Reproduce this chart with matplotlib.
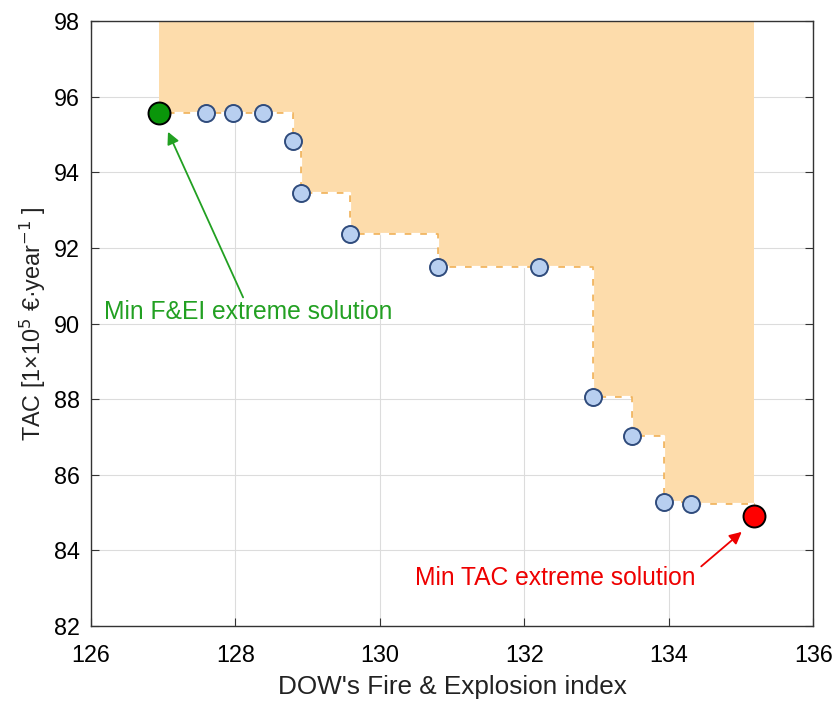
import matplotlib
matplotlib.use("Agg")
import matplotlib.pyplot as plt

plt.rcParams["font.family"] = ["Liberation Sans", "DejaVu Sans"]

# pareto front
fei = [126.95, 127.60, 127.97, 128.39, 128.80, 128.91, 129.59, 130.81,
       132.20, 132.95, 133.49, 133.94, 134.31, 135.18]
tac = [95.56, 95.57, 95.57, 95.57, 94.83, 93.46, 92.38, 91.50,
       91.50, 88.06, 87.02, 85.28, 85.24, 84.90]

# staircase boundary of the dominated region (last level kept to the red point)
step_y = tac[:-1] + [tac[-2]]

fig = plt.figure(figsize=(8.38, 7.03), dpi=100)
ax = fig.add_axes([0.1082, 0.1095, 0.8623, 0.8606])

ax.fill_between(fei, step_y, 98, step="post", color="#fddcab", lw=0, zorder=1)
ax.step(fei, step_y, where="post", color="#f0b25a", lw=1.2, zorder=2)
ax.step(fei, step_y, where="post", color="white", lw=1.6, ls=(0, (4, 3)), zorder=3)

ax.scatter(fei[1:-1], tac[1:-1], s=150, c="#b8cff0", edgecolors="#2f4b7c",
           linewidths=1.4, zorder=4)
ax.scatter(fei[0], tac[0], s=250, c="#0a960a", edgecolors="black", linewidths=1.4, zorder=5)
ax.scatter(fei[-1], tac[-1], s=250, c="#ff0000", edgecolors="black", linewidths=1.4, zorder=5)

ax.annotate("Min F&EI extreme solution", xy=(127.07, 95.07), xytext=(126.18, 90.30),
            color="#22a022", fontsize=17.7, va="center", ha="left",
            arrowprops=dict(arrowstyle="-|>", color="#22a022", lw=1.3,
                            mutation_scale=18, shrinkA=0, shrinkB=0,
                            relpos=(0.486, 1.05)))
ax.annotate("Min TAC extreme solution", xy=(135.01, 84.49), xytext=(130.49, 83.26),
            color="#ee0000", fontsize=17.7, va="center", ha="left",
            arrowprops=dict(arrowstyle="-|>", color="#ee0000", lw=1.3,
                            mutation_scale=18, shrinkA=0, shrinkB=0,
                            relpos=(1.02, 1.0)))

ax.set_xlim(126, 136)
ax.set_ylim(82, 98)
ax.set_xticks(range(126, 137, 2))
ax.set_yticks(range(82, 99, 2))
ax.grid(True, color="#dcdcdc", lw=0.8, zorder=0)
ax.set_axisbelow(True)
ax.tick_params(direction="in", top=True, right=True, labelsize=16.8, length=6,
               color="#333333")
ax.tick_params(axis="x", pad=13)
ax.tick_params(axis="y", pad=8)
for s in ax.spines.values():
    s.set_color("#333333")
    s.set_linewidth(1.0)

ax.set_xlabel("DOW's Fire & Explosion index", fontsize=18.8, color="#222222", labelpad=6)
ax.set_ylabel(r"TAC [1×10$^{5}$ €·year$^{-1}$ ]", fontsize=16.8, color="#222222")

fig.savefig("out.png", dpi=100)
